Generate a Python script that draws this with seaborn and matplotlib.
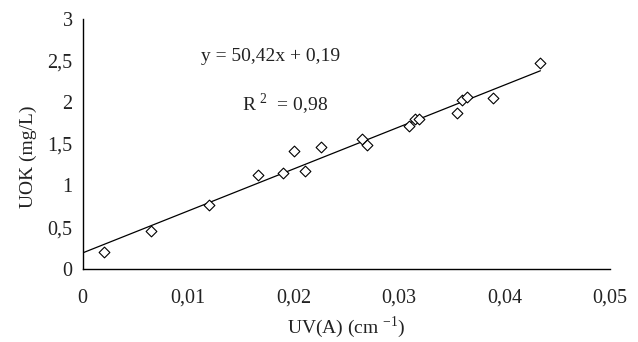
import matplotlib
matplotlib.use("Agg")
import matplotlib.pyplot as plt
import seaborn as sns
import numpy as np
import pandas as pd

uv = [0.0020, 0.0065, 0.0120, 0.0166, 0.0190, 0.0200, 0.0211, 0.0226,
      0.0265, 0.0270, 0.0309, 0.0315, 0.0319, 0.0355, 0.0360, 0.0364,
      0.0389, 0.0434]
uok = [0.20, 0.45, 0.77, 1.12, 1.15, 1.42, 1.17, 1.46,
       1.56, 1.49, 1.71, 1.80, 1.80, 1.87, 2.03, 2.06,
       2.05, 2.47]
slope = 50.42
intercept = 0.19
x_ticks = [0, 0.01, 0.02, 0.03, 0.04, 0.05]
x_tick_labels = ["0", "0,01", "0,02", "0,03", "0,04", "0,05"]
y_ticks = [0, 0.5, 1, 1.5, 2, 2.5, 3]
y_tick_labels = ["0", "0,5", "1", "1,5", "2", "2,5", "3"]

sns.set_style("white")
plt.rcParams['font.family'] = ['Liberation Serif', 'DejaVu Serif']
plt.rcParams['mathtext.fontset'] = 'custom'
plt.rcParams['mathtext.rm'] = 'Liberation Serif'

df = pd.DataFrame({"uv": uv, "uok": uok})
fit_x = np.array([0.0, max(uv)])
fit_df = pd.DataFrame({"uv": fit_x, "uok": slope * fit_x + intercept})

fig = plt.figure(figsize=(6.38, 3.42), dpi=100)
ax = fig.add_axes([0.1296, 0.2143, 0.8265, 0.7301])

sns.lineplot(data=fit_df, x="uv", y="uok", ax=ax, color="black", linewidth=0.9)
sns.scatterplot(data=df, x="uv", y="uok", ax=ax, marker="D", s=30,
                facecolor="white", edgecolor="black", linewidth=0.8, zorder=3)

ax.set_xlim(0, 0.05)
ax.set_ylim(0, 3)
ax.set_xticks(x_ticks)
ax.set_xticklabels(x_tick_labels)
ax.set_yticks(y_ticks)
ax.set_yticklabels(y_tick_labels)
ax.tick_params(axis="both", direction="out", length=6.3, width=1, color="black",
               labelsize=14.5, labelcolor="#222222")
ax.tick_params(axis="x", pad=8)
ax.tick_params(axis="y", pad=1)
for side in ["top", "right"]:
    ax.spines[side].set_visible(False)
for side in ["left", "bottom"]:
    ax.spines[side].set_color("black")
    ax.spines[side].set_linewidth(1)

ax.set_xlabel("UV(A) (cm $^{-1}$)", fontsize=14, color="#222222", labelpad=5)
ax.set_ylabel("UOK (mg/L)", fontsize=14, color="#222222")
ax.yaxis.set_label_coords(-0.087, 0.447)

ax.text(0.0112, 2.55, "y = 50,42x + 0,19", fontsize=14, color="#222222",
        va="center", ha="left")
ax.text(0.0151, 1.98, "R$^{\\ 2}$  = 0,98", fontsize=14, color="#222222",
        va="center", ha="left")

fig.savefig("out.png", dpi=100)
